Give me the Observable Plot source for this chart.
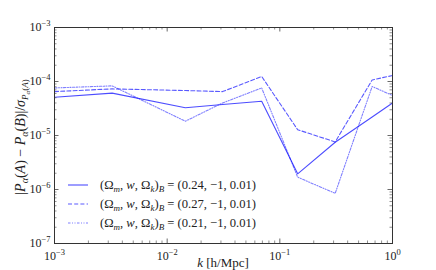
<!DOCTYPE html>
<html>
<head>
<meta charset="utf-8">
<script src="https://cdn.jsdelivr.net/npm/d3@7"></script>
<script src="https://cdn.jsdelivr.net/npm/@observablehq/plot@0.6"></script>
<style>
  html, body { margin: 0; padding: 0; background: #fff; }
  #chart { width: 436px; height: 270px; }
  svg text { font-family: "Liberation Serif", "DejaVu Serif", serif; }
</style>
</head>
<body>
<div id="chart"></div>
<script>
// k values [h/Mpc]
const kValues = [0.001, 0.00325, 0.0145, 0.031, 0.069, 0.144, 0.31, 0.66, 1.0];
// |P(A)-P(B)|/sigma for three B cosmologies
const seriesSolid  = [5.1e-5, 6.1e-5, 3.26e-5, 3.75e-5, 4.3e-5, 1.95e-6, 7.5e-6, 2.2e-5, 4.0e-5];
const seriesDashed = [6.5e-5, 7.3e-5, 6.8e-5, 6.5e-5, 1.24e-4, 1.28e-5, 7.6e-6, 1.07e-4, 1.29e-4];
const seriesDotted = [7.6e-5, 8.3e-5, 1.84e-5, 4.0e-5, 7.6e-5, 1.69e-6, 8.5e-7, 8.1e-5, 5.5e-5];
const seriesNames = ["0.24", "0.27", "0.21"];
const xMajor = [1e-3, 1e-2, 1e-1, 1e0];
const yMajor = [1e-7, 1e-6, 1e-5, 1e-4, 1e-3];
const minorMult = [2, 3, 4, 5, 6, 7, 8, 9];

const W = 436, H = 270, mL = 54, mR = 44, mT = 27, mB = 27;
const fw = W - mL - mR, fh = H - mT - mB;

const styles = [
  {dash: null, op: 0.7},
  {dash: "4,2.2", op: 0.65},
  {dash: "2.5,1.5,1,1.5,1,1.5", op: 0.5}
];
const allSeries = [seriesSolid, seriesDashed, seriesDotted];
const rows = [];
allSeries.forEach((s, i) => s.forEach((v, j) => rows.push({k: kValues[j], v, s: i})));

const xMinor = [];
for (let e = -3; e < 0; e++) minorMult.forEach(m => xMinor.push(m * Math.pow(10, e)));
const yMinor = [];
for (let e = -7; e < -3; e++) minorMult.forEach(m => yMinor.push(m * Math.pow(10, e)));

const expFmt = d => "10^" + Math.round(Math.log10(d));
const tickStroke = "#444";

const marks = [];
styles.forEach((st, i) => {
  marks.push(Plot.line(rows.filter(r => r.s === i), {
    x: "k", y: "v", stroke: "#0000ff", strokeOpacity: st.op, strokeWidth: 1.1,
    strokeDasharray: st.dash
  }));
});
// inward ticks on all four sides
marks.push(
  Plot.ruleX(xMajor, {x: d => d, insetTop: fh - 4.5, stroke: tickStroke, strokeWidth: 0.8}),
  Plot.ruleX(xMajor, {x: d => d, insetBottom: fh - 4.5, stroke: tickStroke, strokeWidth: 0.8}),
  Plot.ruleX(xMinor, {x: d => d, insetTop: fh - 2.5, stroke: tickStroke, strokeWidth: 0.6}),
  Plot.ruleX(xMinor, {x: d => d, insetBottom: fh - 2.5, stroke: tickStroke, strokeWidth: 0.6}),
  Plot.ruleY(yMajor, {y: d => d, insetRight: fw - 4.5, stroke: tickStroke, strokeWidth: 0.8}),
  Plot.ruleY(yMajor, {y: d => d, insetLeft: fw - 4.5, stroke: tickStroke, strokeWidth: 0.8}),
  Plot.ruleY(yMinor, {y: d => d, insetRight: fw - 2.5, stroke: tickStroke, strokeWidth: 0.6}),
  Plot.ruleY(yMinor, {y: d => d, insetLeft: fw - 2.5, stroke: tickStroke, strokeWidth: 0.6}),
  Plot.axisX({ticks: xMajor, tickSize: 0, tickPadding: 8, tickFormat: expFmt, fontSize: 12, fill: "#222"}),
  Plot.axisY({ticks: yMajor, tickSize: 0, tickPadding: 4, tickFormat: expFmt, fontSize: 12, fill: "#222"}),
  Plot.frame({stroke: "#333", strokeWidth: 1})
);

const plot = Plot.plot({
  width: W, height: H,
  marginLeft: mL, marginRight: mR, marginTop: mT, marginBottom: mB,
  x: {type: "log", domain: [1e-3, 1], label: null},
  y: {type: "log", domain: [1e-7, 1e-3], label: null},
  style: {fontFamily: "Liberation Serif, DejaVu Serif, serif", background: "#fff"},
  marks
});
document.getElementById("chart").appendChild(plot);

// superscripts in tick labels
plot.querySelectorAll("text").forEach(t => {
  const m = /^10\^(-?\d+)$/.exec(t.textContent);
  if (m) {
    const e = m[1].replace("-", "\u2212");
    t.textContent = "";
    const a = document.createElementNS("http://www.w3.org/2000/svg", "tspan");
    a.textContent = "10";
    const b = document.createElementNS("http://www.w3.org/2000/svg", "tspan");
    b.textContent = e;
    b.setAttribute("dy", "-5");
    b.setAttribute("font-size", "8.5");
    t.appendChild(a); t.appendChild(b);
  }
});

const svg = d3.select(plot);
const fam = "Liberation Serif, DejaVu Serif, serif";

// x label
const xl = svg.append("text").attr("x", 223).attr("y", 267).attr("text-anchor", "middle")
  .attr("font-size", 13).attr("font-family", fam).attr("fill", "#222");
xl.append("tspan").attr("font-style", "italic").text("k");
xl.append("tspan").text(" [h/Mpc]");

// y label
const yl = svg.append("text").attr("transform", "translate(25,137) rotate(-90)")
  .attr("text-anchor", "middle").attr("font-size", 14).attr("font-family", fam).attr("fill", "#222");
yl.append("tspan").text("|");
yl.append("tspan").attr("font-style", "italic").text("P");
yl.append("tspan").attr("font-style", "italic").attr("font-size", 10).attr("dy", 3).text("α");
yl.append("tspan").attr("dy", -3).text("(");
yl.append("tspan").attr("font-style", "italic").text("A");
yl.append("tspan").text(") \u2212 ");
yl.append("tspan").attr("font-style", "italic").text("P");
yl.append("tspan").attr("font-style", "italic").attr("font-size", 10).attr("dy", 3).text("α");
yl.append("tspan").attr("dy", -3).text("(");
yl.append("tspan").attr("font-style", "italic").text("B");
yl.append("tspan").text(")|/");
yl.append("tspan").attr("font-style", "italic").text("σ");
yl.append("tspan").attr("font-style", "italic").attr("font-size", 9).attr("dy", 3).text("P");
yl.append("tspan").attr("font-style", "italic").attr("font-size", 7).attr("dy", 2).text("α");
yl.append("tspan").attr("font-size", 9).attr("dy", -2).text("(");
yl.append("tspan").attr("font-style", "italic").attr("font-size", 9).text("A");
yl.append("tspan").attr("font-size", 9).text(")");

// legend
const legY = [189, 208, 227];
styles.forEach((st, i) => {
  const y = legY[i];
  svg.append("line").attr("x1", 68).attr("x2", 88).attr("y1", y - 4).attr("y2", y - 4)
    .attr("stroke", "#0000ff").attr("stroke-opacity", st.op).attr("stroke-width", 1.1)
    .attr("stroke-dasharray", st.dash);
  const t = svg.append("text").attr("x", 100).attr("y", y).attr("font-size", 12.6)
    .attr("text-anchor", "start")
    .attr("font-family", fam).attr("fill", "#222");
  t.append("tspan").text("(Ω");
  t.append("tspan").attr("font-style", "italic").attr("font-size", 9).attr("dy", 2.5).text("m");
  t.append("tspan").attr("dy", -2.5).text(", ");
  t.append("tspan").attr("font-style", "italic").text("w");
  t.append("tspan").text(", Ω");
  t.append("tspan").attr("font-style", "italic").attr("font-size", 9).attr("dy", 2.5).text("k");
  t.append("tspan").attr("dy", -2.5).text(")");
  t.append("tspan").attr("font-style", "italic").attr("font-size", 9).attr("dy", 2.5).text("B");
  t.append("tspan").attr("dy", -2.5).text(" = (" + seriesNames[i] + ", \u22121, 0.01)");
});
</script>
</body>
</html>
